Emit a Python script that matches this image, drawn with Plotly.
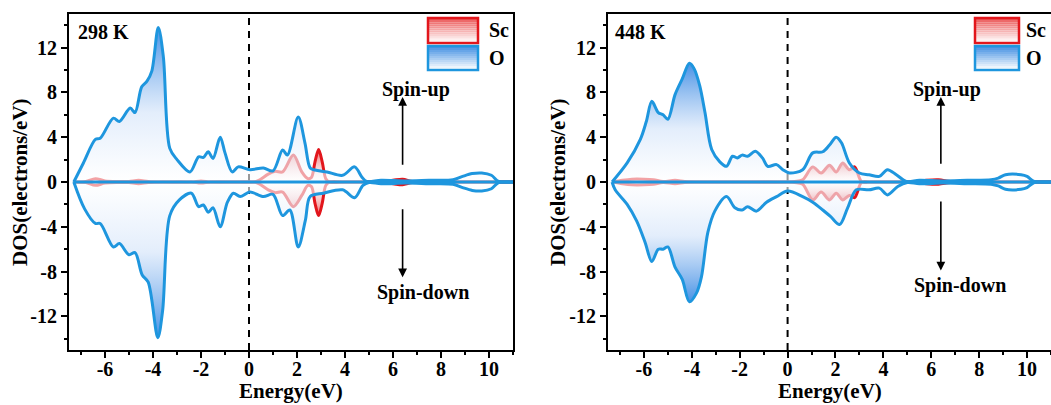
import plotly.graph_objects as go

W, H = 1051, 405
FONT = "Liberation Serif"

# ---------------- data: 298 K ----------------
e_o_up_298 = [-7.3, -6.9, -6.4, -6.2, -5.65, -5.4, -4.95, -4.75, -4.47, -4.25, -4.05, -3.78, -3.57, -3.3, -3.0,
              -2.46, -2.1, -1.9, -1.7, -1.5, -1.2, -1.0, -0.7, -0.45, 0.04, 0.6, 1.0, 1.4, 1.6, 2.05, 2.33, 2.55,
              2.75, 3.25, 3.9, 4.4, 4.7, 4.9, 5.5, 6.5, 7.5, 8.5, 8.9, 9.3, 9.7, 10.1, 10.4, 11.0]
dos_o_up_298 = [0, 1.7, 3.8, 3.9, 5.7, 5.4, 6.6, 6.2, 8.5, 9.0, 9.9, 13.8, 11.2, 3.0, 2.0,
                0.9, 2.25, 2.2, 2.7, 2.1, 4.0, 2.6, 0.9, 1.35, 1.1, 1.25, 1.0, 2.85, 2.4, 5.8, 3.5, 1.25,
                1.07, 0.9, 0.6, 1.35, 0.45, 0.05, 0.15, 0.1, 0.15, 0.2, 0.5, 0.75, 0.8, 0.6, 0.05, 0]
e_o_dn_298 = [-7.3, -6.85, -6.4, -6.2, -5.65, -5.4, -5.0, -4.75, -4.45, -4.2, -3.8, -3.6, -3.3, -2.9, -2.4,
              -2.1, -1.9, -1.7, -1.5, -1.2, -0.9, -0.65, -0.37, 0.04, 0.6, 1.0, 1.4, 1.7, 2.05, 2.35, 2.55,
              3.1, 3.9, 4.4, 4.75, 5.0, 5.5, 6.5, 7.5, 8.5, 8.9, 9.3, 9.7, 10.1, 10.4, 11.0]
dos_o_dn_298 = [0, -2.4, -3.7, -3.7, -5.8, -5.5, -6.5, -6.3, -8.3, -8.95, -13.9, -11.5, -3.0, -1.6, -1.0,
                -2.2, -2.05, -2.7, -2.3, -4.0, -1.8, -1.0, -1.3, -0.9, -1.3, -1.1, -3.0, -2.5, -5.8, -3.4, -1.3,
                -1.0, -0.7, -1.4, -0.3, -0.05, -0.15, -0.1, -0.15, -0.2, -0.5, -0.75, -0.8, -0.6, -0.05, 0]
e_sc_298 = [-7.3, -6.8, -6.4, -6.0, -5.4, -5.0, -4.6, -4.2, -3.6, -2.4, -2.0, -1.6, -0.5, 0.2, 0.45, 0.8,
            1.1, 1.4, 1.85, 2.2, 2.45, 2.6, 2.75, 2.9, 3.05, 3.2, 3.35, 4.0, 5.4, 6.0, 6.4, 6.8, 7.4, 11.0]
dos_sc_up_298 = [0, 0.05, 0.3, 0.1, 0.05, 0.05, 0.15, 0.05, 0, 0, 0.1, 0, 0, 0, 0.2, 0.7,
                 0.95, 0.9, 2.4, 0.9, 0.3, 0.4, 1.8, 2.9, 1.8, 0.3, 0, 0, 0, 0.15, 0.25, 0.05, 0, 0]
dos_sc_dn_298 = [0, -0.05, -0.3, -0.1, -0.05, -0.05, -0.15, -0.05, 0, 0, -0.1, 0, 0, 0, -0.2, -0.7,
                 -0.95, -0.9, -2.2, -1.2, -0.3, -0.4, -1.9, -3.0, -1.9, -0.3, 0, 0, 0, -0.15, -0.25, -0.05, 0, 0]

# ---------------- data: 448 K ----------------
e_o_up_448 = [-7.33, -6.7, -6.15, -5.9, -5.67, -5.4, -5.2, -5.0, -4.7, -4.4, -4.1, -3.9, -3.67, -3.45, -3.17,
              -2.83, -2.55, -2.3, -2.1, -1.9, -1.67, -1.35, -1.05, -0.83, -0.46, -0.2, 0.08, 0.63, 1.05, 1.47,
              1.75, 2.03, 2.25, 2.58, 3.0, 3.4, 3.83, 4.17, 4.54, 4.96, 5.5, 6.5, 7.5, 8.5, 8.8, 9.1, 9.75,
              10.0, 10.3, 11.0]
dos_o_up_448 = [0, 1.7, 3.8, 5.4, 7.2, 6.2, 6.0, 5.6, 7.8, 9.2, 10.6, 10.1, 8.6, 6.2, 2.9,
                1.8, 1.4, 2.3, 2.15, 2.4, 2.3, 2.75, 2.15, 1.4, 1.55, 1.1, 0.8, 1.1, 2.6, 2.7,
                3.3, 4.0, 3.5, 1.7, 0.8, 0.65, 0.5, 1.1, 0.65, 0.05, 0.15, 0.1, 0.15, 0.2, 0.35, 0.65, 0.65,
                0.5, 0.05, 0]
e_o_dn_448 = [-7.33, -7.2, -6.7, -6.3, -5.95, -5.67, -5.4, -5.2, -5.0, -4.7, -4.4, -4.1, -3.8, -3.6, -3.33,
              -3.04, -2.55, -2.2, -1.9, -1.67, -1.3, -0.88, -0.46, 0.0, 0.63, 1.05, 1.47, 1.8, 2.17, 2.5,
              2.87, 3.4, 3.83, 4.17, 4.6, 5.0, 5.5, 6.5, 7.5, 8.5, 8.8, 9.1, 9.75, 10.0, 10.3, 11.0]
dos_o_dn_448 = [0, -0.7, -2.0, -3.5, -5.4, -7.1, -6.0, -6.0, -5.8, -7.6, -8.7, -10.7, -9.9, -8.5, -4.5,
                -2.6, -1.3, -2.3, -2.5, -2.2, -2.6, -1.8, -1.3, -0.8, -1.3, -1.8, -2.5, -3.1, -3.8, -2.35,
                -0.7, -0.7, -0.55, -1.15, -0.4, -0.05, -0.15, -0.1, -0.15, -0.2, -0.35, -0.65, -0.65, -0.5,
                -0.05, 0]
e_sc_448 = [-7.3, -6.9, -6.5, -6.0, -5.6, -5.2, -4.7, -4.3, -3.8, -2.5, 0.0, 0.3, 0.63, 1.05, 1.4, 1.75,
            2.03, 2.3, 2.58, 2.8, 3.1, 3.5, 5.3, 5.8, 6.3, 6.8, 7.5, 11.0]
dos_sc_up_448 = [0, 0.15, 0.25, 0.25, 0.2, 0.05, 0.15, 0.05, 0, 0, 0, 0.05, 0.2, 1.35, 0.8, 1.5,
                 0.9, 1.7, 1.1, 1.35, 0, 0, 0, 0.15, 0.2, 0.05, 0, 0]
dos_sc_dn_448 = [0, -0.15, -0.25, -0.25, -0.2, -0.05, -0.15, -0.05, 0, 0, 0, -0.05, -0.2, -1.6, -0.9, -1.6,
                 -1.0, -1.6, -1.2, -1.4, 0, 0, 0, -0.15, -0.2, -0.05, 0, 0]

panel_labels = ["298 K", "448 K"]
legend_names = ["Sc", "O"]
x_ticks = [-6, -4, -2, 0, 2, 4, 6, 8, 10]
y_ticks = [-12, -8, -4, 0, 4, 8, 12]

# ---------------- styling ----------------
O_LINE = "rgb(30,150,222)"
SC_LINE = "rgb(226,22,28)"
o_up_scale = [[0, "rgba(255,255,255,0.6)"], [0.45, "rgba(215,230,250,0.7)"], [1, "rgba(62,140,228,0.95)"]]
o_dn_scale = [[0, "rgba(62,140,228,0.95)"], [0.55, "rgba(215,230,250,0.7)"], [1, "rgba(255,255,255,0.6)"]]
sc_up_scale = [[0, "rgba(255,255,255,0.3)"], [1, "rgba(236,80,80,0.85)"]]
sc_dn_scale = [[0, "rgba(236,80,80,0.85)"], [1, "rgba(255,255,255,0.3)"]]

fig = go.Figure()

panels = [
    dict(xa="x", ya="y", e_o_up=e_o_up_298, o_up=dos_o_up_298, e_o_dn=e_o_dn_298, o_dn=dos_o_dn_298,
         e_sc=e_sc_298, sc_up=dos_sc_up_298, sc_dn=dos_sc_dn_298),
    dict(xa="x2", ya="y2", e_o_up=e_o_up_448, o_up=dos_o_up_448, e_o_dn=e_o_dn_448, o_dn=dos_o_dn_448,
         e_sc=e_sc_448, sc_up=dos_sc_up_448, sc_dn=dos_sc_dn_448),
]

for p in panels:
    for yv, sc in [(p["sc_up"], sc_up_scale), (p["sc_dn"], sc_dn_scale)]:
        fig.add_trace(go.Scatter(x=p["e_sc"], y=yv, xaxis=p["xa"], yaxis=p["ya"], mode="lines",
                                 line=dict(color=SC_LINE, width=3, shape="spline", smoothing=0.9),
                                 fill="tozeroy", fillgradient=dict(type="vertical", colorscale=sc),
                                 showlegend=False, hoverinfo="skip"))
    for ex, yv, sc in [(p["e_o_up"], p["o_up"], o_up_scale), (p["e_o_dn"], p["o_dn"], o_dn_scale)]:
        fig.add_trace(go.Scatter(x=ex, y=yv, xaxis=p["xa"], yaxis=p["ya"], mode="lines",
                                 line=dict(color=O_LINE, width=3, shape="spline", smoothing=0.9),
                                 fill="tozeroy", fillgradient=dict(type="vertical", colorscale=sc),
                                 showlegend=False, hoverinfo="skip"))
    # baseline at zero over the energy window of the data
    fig.add_trace(go.Scatter(x=[p["e_o_up"][0], p["e_o_up"][-1]], y=[0, 0], xaxis=p["xa"], yaxis=p["ya"],
                             mode="lines", line=dict(color=O_LINE, width=3), showlegend=False,
                             hoverinfo="skip"))


def px(x):
    return x / W


def py(y):
    return 1 - y / H


ydom = [py(350), py(14)]
axis_common = dict(showline=True, linecolor="black", linewidth=2, mirror=True, ticks="outside",
                   ticklen=6, tickwidth=2, tickcolor="black", showgrid=False, zeroline=False,
                   automargin=False,
                   tickfont=dict(family=FONT, size=20, color="black", weight="bold"))
xcommon = dict(axis_common, range=[-7.5, 11], tickmode="array", tickvals=x_ticks,
               ticktext=[str(v) for v in x_ticks], ticklabelstandoff=-6,
               minor=dict(tickmode="linear", tick0=1, dtick=2, ticks="outside", ticklen=3, tickwidth=2,
                          tickcolor="black"))
ycommon = dict(axis_common, range=[-15, 15], tickmode="array", tickvals=y_ticks,
               ticktext=[str(v) for v in y_ticks],
               minor=dict(tickmode="linear", tick0=2, dtick=4, ticks="outside", ticklen=3, tickwidth=2,
                          tickcolor="black"))

fig.update_layout(
    width=W, height=H, margin=dict(l=0, r=0, t=0, b=0, autoexpand=False),
    paper_bgcolor="white", plot_bgcolor="white",
    xaxis=dict(xcommon, domain=[px(69), px(513)], anchor="y"),
    yaxis=dict(ycommon, domain=ydom, anchor="x"),
    xaxis2=dict(xcommon, domain=[px(608), 1.0], anchor="y2"),
    yaxis2=dict(ycommon, domain=ydom, anchor="x2"),
)

tfont = dict(family=FONT, size=20, color="black", weight="bold")

# (plot left, plot right, y-title x, panel label x, legend box x, legend box width, legend text x)
panel_px = [(69, 513, 20, 76, 428, 50, 487), (608, 1051, 558, 613, 975, 44, 1024)]
arrows = [
    dict(up=(6.4, 1.4, 7.6), dn=(6.4, -2.3, -8.5), up_txt=(6.95, 8.3), dn_txt=(7.27, -9.85)),
    dict(up=(6.4, 1.5, 7.6), dn=(6.4, -1.6, -7.9), up_txt=(6.67, 8.3), dn_txt=(7.2, -9.2)),
]

for i, (x0, x1, ytitle_x, lab_x, leg_x, leg_w, leg_tx) in enumerate(panel_px):
    xa = "x" if i == 0 else "x2"
    ya = "y" if i == 0 else "y2"
    # Fermi level
    fig.add_shape(type="line", xref=xa, yref=f"{ya} domain", x0=0, x1=0, y0=0, y1=1,
                  line=dict(color="black", width=2, dash="7px,6px"), layer="below")
    # axis titles
    fig.add_annotation(text="DOS(electrons/eV)", xref="paper", yref="paper", x=px(ytitle_x), y=py(182),
                       xanchor="center", yanchor="middle",
                       textangle=-90, showarrow=False, font=dict(tfont, size=21))
    fig.add_annotation(text="Energy(eV)", xref="paper", yref="paper", x=px((x0 + x1) / 2), y=py(391),
                       xanchor="center", yanchor="middle", showarrow=False, font=dict(tfont, size=21))
    # panel label
    fig.add_annotation(text=panel_labels[i], xref="paper", yref="paper", x=px(lab_x), y=py(32),
                       xanchor="left", yanchor="middle", showarrow=False, font=tfont)
    # spin arrows
    a = arrows[i]
    for key in ("up", "dn"):
        ax_, y_tail, y_head = a[key]
        fig.add_annotation(x=ax_, y=y_head, ax=ax_, ay=y_tail, xref=xa, yref=ya, axref=xa, ayref=ya,
                           text="", showarrow=True, arrowhead=2, arrowsize=1.1, arrowwidth=1.6,
                           arrowcolor="black")
    fig.add_annotation(text="Spin-up", x=a["up_txt"][0], y=a["up_txt"][1], xref=xa, yref=ya,
                       xanchor="center", yanchor="middle", showarrow=False, font=tfont)
    fig.add_annotation(text="Spin-down", x=a["dn_txt"][0], y=a["dn_txt"][1], xref=xa, yref=ya,
                       xanchor="center", yanchor="middle", showarrow=False, font=tfont)
    # legend keys (gradient boxes)
    boxes = [((18, 43), (236, 90, 90), SC_LINE), ((46, 70), (70, 145, 228), O_LINE)]
    for (yt, yb), (r, g, b), edge in boxes:
        n = 12
        for k in range(n):
            t = k / (n - 1)
            c = (int(r + (255 - r) * t), int(g + (255 - g) * t), int(b + (255 - b) * t))
            fig.add_shape(type="rect", xref="paper", yref="paper", x0=px(leg_x), x1=px(leg_x + leg_w),
                          y0=py(yt + (yb - yt) * (k + 1) / n), y1=py(yt + (yb - yt) * k / n),
                          line=dict(width=0), fillcolor=f"rgb{c}", layer="above")
        fig.add_shape(type="rect", xref="paper", yref="paper", x0=px(leg_x), x1=px(leg_x + leg_w),
                      y0=py(yb), y1=py(yt), line=dict(color=edge, width=2.5), layer="above")
    for name, (yt, yb) in zip(legend_names, [(18, 43), (46, 70)]):
        fig.add_annotation(text=name, xref="paper", yref="paper", x=px(leg_tx), y=py((yt + yb) / 2),
                           xanchor="left", yanchor="middle", showarrow=False, font=tfont)

fig.write_html("out.html", config={"displayModeBar": False},
               post_script="document.body.style.margin='0';document.body.style.overflow='hidden';")
